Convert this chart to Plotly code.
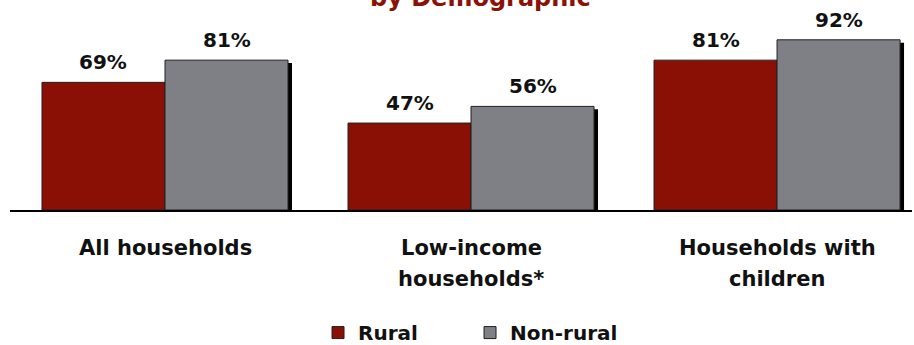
import plotly.graph_objects as go

# ---- data ----
categories = ["All households", "Low-income<br>households*", "Households with<br>children"]
series_names = ["Rural", "Non-rural"]
rural = [69, 47, 81]
non_rural = [81, 56, 92]
title_text = "by Demographic"

# ---- styles ----
RED = "#8a1005"
GRAY = "#7f8086"
TITLE_RED = "#8b1208"
FONT = "DejaVu Sans"

x_pos = list(range(len(categories)))
bar_w = 0.402
shadow_dx = 0.013
shadow_dy = 1.6

fig = go.Figure()

series = [(series_names[0], rural, RED, -bar_w), (series_names[1], non_rural, GRAY, 0.0)]

# shadows first
for name, vals, col, off in series:
    fig.add_trace(go.Bar(
        x=x_pos, y=vals, base=[-shadow_dy] * len(vals), width=bar_w,
        offset=off + shadow_dx, marker=dict(color="black", line=dict(width=0)),
        showlegend=False, hoverinfo="skip",
    ))

for name, vals, col, off in series:
    fig.add_trace(go.Bar(
        x=x_pos, y=vals, width=bar_w, offset=off, name=name,
        marker=dict(color=col, line=dict(color="#202020", width=1)),
    ))

annotations = []
for name, vals, col, off in series:
    for i, v in enumerate(vals):
        annotations.append(dict(
            x=i + off + bar_w / 2, y=v, xref="x", yref="y", text=f"{v}%",
            showarrow=False, yanchor="bottom", yshift=6,
            font=dict(family=FONT, size=20, color="#111111", weight="bold"),
        ))

# category labels, one annotation per line for the wider line spacing
for i, cat in enumerate(categories):
    for j, line in enumerate(cat.split("<br>")):
        annotations.append(dict(
            x=x_pos[i], y=0, xref="x", yref="paper", text=line,
            showarrow=False, yanchor="top", xanchor="center",
            yshift=-24 - 31 * j,
            font=dict(family=FONT, size=21, color="#111111", weight="bold"),
        ))

annotations.append(dict(
    x=0.522, y=1.06, xref="paper", yref="paper", text=title_text,
    showarrow=False, yanchor="bottom", xanchor="center",
    font=dict(family=FONT, size=24, color=TITLE_RED, weight="bold"),
))

fig.update_layout(
    width=914, height=345,
    margin=dict(l=10, r=2, t=25, b=135),
    paper_bgcolor="white", plot_bgcolor="white",
    barmode="overlay",
    annotations=annotations,
    showlegend=True,
    legend=dict(
        orientation="h", x=0.51, xanchor="center",
        yref="container", y=0.036, yanchor="middle",
        font=dict(family=FONT, size=20, color="#111111", weight="bold"),
        entrywidth=107, entrywidthmode="pixels", traceorder="normal",
    ),
    xaxis=dict(
        range=[-0.5065, 2.441], tickvals=x_pos, ticktext=["" for _ in categories],
        showline=True, linecolor="black", linewidth=2, showgrid=False,
        zeroline=False, ticks="",
    ),
    yaxis=dict(range=[0, 100], visible=False, showgrid=False, zeroline=False),
)

fig.write_html("out.html")
